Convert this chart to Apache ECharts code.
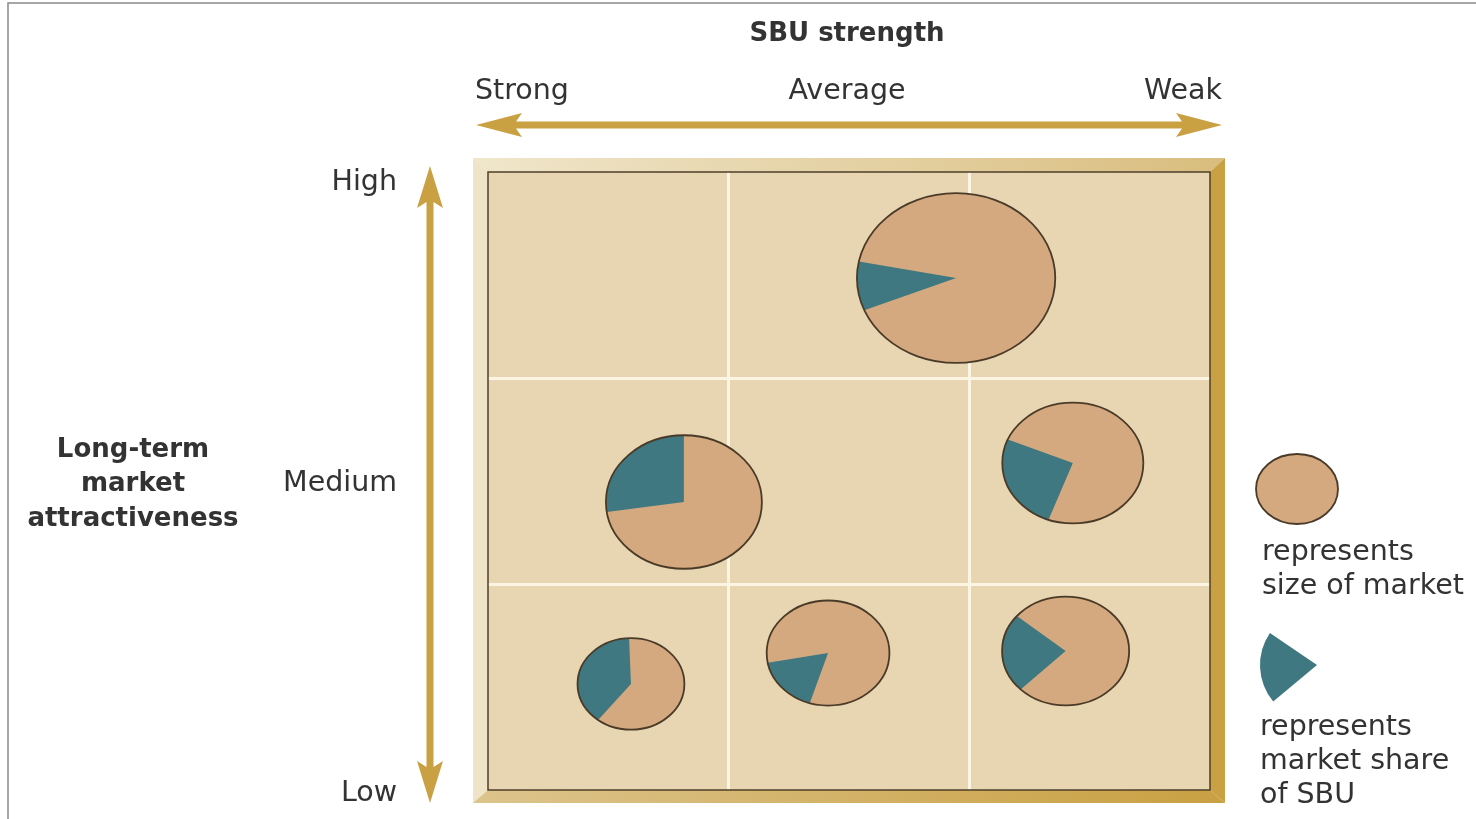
<!DOCTYPE html>
<html>
<head>
<meta charset="utf-8">
<script src="https://cdn.jsdelivr.net/npm/echarts@6/dist/echarts.min.js"></script>
<style>html,body{margin:0;padding:0;background:#fff}#c{width:1476px;height:819px}</style>
</head>
<body>
<div id="c"></div>
<script>
// ---- data ----
const xTickLabels = ['Strong', 'Average', 'Weak'];
const yTickLabels = ['High', 'Medium', 'Low'];
const sbuStrength    = [1.945, 0.814, 2.43, 0.594, 1.413, 2.40];   // x position (0..3)
const attractiveness = [2.485, 1.398, 1.587, 0.515, 0.665, 0.675]; // y position (0..3)
const marketSize     = [0.412, 0.324, 0.293, 0.222, 0.255, 0.264]; // radius in axis units
const marketShare    = [9.3, 27.4, 25.8, 38.9, 17.2, 23.6];        // % of market
const shareStart     = [168.8, 90, 157, 92, 190.7, 140];           // start angle of share wedge (deg)

const pieData = sbuStrength.map((x, i) => [x, attractiveness[i], marketSize[i], marketShare[i], shareStart[i]]);

const TAN = '#D4A97F', TEAL = '#3F7881', OUTLINE = '#4a3a28', GOLD = '#C9A042', TXT = '#333333';
const FONT = '"DejaVu Sans", sans-serif';

const chart = echarts.init(document.getElementById('c'));

function hArrow(x1, x2, y, headL, headH, w) {
  const h = w / 2;
  return [[x1, y], [x1 + headL, y - headH], [x1 + headL - 6, y - h], [x2 - headL + 6, y - h], [x2 - headL, y - headH], [x2, y],
          [x2 - headL, y + headH], [x2 - headL + 6, y + h], [x1 + headL - 6, y + h], [x1 + headL, y + headH]];
}
function vArrow(y1, y2, x, headL, headW, w) {
  const h = w / 2;
  return [[x, y1], [x + headW, y1 + headL], [x + h, y1 + headL - 6], [x + h, y2 - headL + 6], [x + headW, y2 - headL], [x, y2],
          [x - headW, y2 - headL], [x - h, y2 - headL + 6], [x - h, y1 + headL - 6], [x - headW, y1 + headL]];
}
function txt(text, x, y, opts) {
  return Object.assign({
    type: 'text', z: 50,
    style: Object.assign({ text: text, x: x, y: y + 2, font: '28.5px ' + FONT, fill: TXT, textAlign: 'left', textVerticalAlign: 'middle', verticalAlign: 'middle' }, opts || {})
  });
}

const xLabelAligns = ['left', 'center', 'right'];
const xLabelX = [475, 847, 1222];
const yLabelY = [181, 482, 792];

const graphics = [
  // outer thin image border
  { type: 'rect', shape: { x: 8, y: 3, width: 1500, height: 840 }, style: { fill: 'none', stroke: '#8a8a8a', lineWidth: 1.5 }, z: 1 },
  // frame
  { type: 'polygon', shape: { points: [[473, 158], [1225, 158], [1210, 172], [488, 172]] }, style: { fill: new echarts.graphic.LinearGradient(0, 0, 1, 0, [{ offset: 0, color: '#F0E6CB' }, { offset: 1, color: '#D9BD7E' }]) }, z: 1 },
  { type: 'polygon', shape: { points: [[473, 158], [488, 172], [488, 790], [473, 803]] }, style: { fill: '#EFE4C7' }, z: 1 },
  { type: 'polygon', shape: { points: [[1225, 158], [1225, 803], [1210, 790], [1210, 172]] }, style: { fill: GOLD }, z: 1 },
  { type: 'polygon', shape: { points: [[473, 803], [1225, 803], [1210, 790], [488, 790]] }, style: { fill: new echarts.graphic.LinearGradient(0, 0, 1, 0, [{ offset: 0, color: '#DCC48C' }, { offset: 1, color: GOLD }]) }, z: 1 },
  { type: 'rect', shape: { x: 488, y: 172, width: 722, height: 618 }, style: { fill: 'none', stroke: '#4d3f2a', lineWidth: 1.5 }, z: 40 },
  // arrows
  { type: 'polygon', shape: { points: hArrow(476, 1222, 125, 46, 12, 7) }, style: { fill: GOLD }, z: 5 },
  { type: 'polygon', shape: { points: vArrow(166, 803, 430, 42, 13, 7) }, style: { fill: GOLD }, z: 5 },
  // titles
  txt('SBU strength', 847, 32, { font: 'bold 26px ' + FONT, textAlign: 'center' }),
  txt('Long-term', 133, 448, { font: 'bold 26px ' + FONT, textAlign: 'center' }),
  txt('market', 133, 482, { font: 'bold 26px ' + FONT, textAlign: 'center' }),
  txt('attractiveness', 133, 517, { font: 'bold 26px ' + FONT, textAlign: 'center' }),
  // legend
  { type: 'ellipse', shape: { cx: 1297, cy: 489, rx: 41, ry: 35 }, style: { fill: TAN, stroke: OUTLINE, lineWidth: 1.8 }, z: 5 },
  txt('represents', 1262, 551),
  txt('size of market', 1262, 585),
  { type: 'sector', shape: { cx: 1317, cy: 665, r0: 0, r: 57, startAngle: 140.2 * Math.PI / 180, endAngle: 214.3 * Math.PI / 180, clockwise: true }, style: { fill: TEAL }, z: 5 },
  txt('represents', 1260, 726),
  txt('market share', 1260, 760),
  txt('of SBU', 1260, 794)
];
xTickLabels.forEach((t, i) => graphics.push(txt(t, xLabelX[i], 90, { textAlign: xLabelAligns[i] })));
yTickLabels.forEach((t, i) => graphics.push(txt(t, 397, yLabelY[i], { textAlign: 'right' })));

chart.setOption({
  animation: false,
  backgroundColor: '#ffffff',
  grid: { left: 488, right: 266, top: 172, bottom: 29, show: true, backgroundColor: '#E7D6B1', borderWidth: 0 },
  xAxis: {
    type: 'value', min: 0, max: 3, interval: 1,
    axisLine: { show: false }, axisTick: { show: false }, axisLabel: { show: false },
    splitLine: { show: true, showMinLine: false, showMaxLine: false, lineStyle: { color: '#FCF5E4', width: 3 } }
  },
  yAxis: {
    type: 'value', min: 0, max: 3, interval: 1,
    axisLine: { show: false }, axisTick: { show: false }, axisLabel: { show: false },
    splitLine: { show: true, showMinLine: false, showMaxLine: false, lineStyle: { color: '#FCF5E4', width: 3 } }
  },
  graphic: graphics,
  series: [{
    type: 'custom',
    coordinateSystem: 'cartesian2d',
    data: pieData,
    z: 10,
    renderItem: function (params, api) {
      const c = api.coord([api.value(0), api.value(1)]);
      const s = api.size([api.value(2), api.value(2)]);
      const rx = s[0], ry = s[1];
      const share = api.value(3), start = api.value(4);
      const a0 = start * Math.PI / 180, a1 = (start + share * 3.6) * Math.PI / 180;
      const pts = [[c[0], c[1]]];
      const n = 48;
      for (let i = 0; i <= n; i++) {
        const a = a0 + (a1 - a0) * i / n;
        pts.push([c[0] + rx * Math.cos(a), c[1] - ry * Math.sin(a)]);
      }
      return {
        type: 'group',
        children: [
          { type: 'ellipse', shape: { cx: c[0], cy: c[1], rx: rx, ry: ry }, style: { fill: TAN } },
          { type: 'polygon', shape: { points: pts }, style: { fill: TEAL } },
          { type: 'ellipse', shape: { cx: c[0], cy: c[1], rx: rx, ry: ry }, style: { fill: 'none', stroke: OUTLINE, lineWidth: 1.8 } }
        ]
      };
    }
  }]
});
</script>
</body>
</html>
